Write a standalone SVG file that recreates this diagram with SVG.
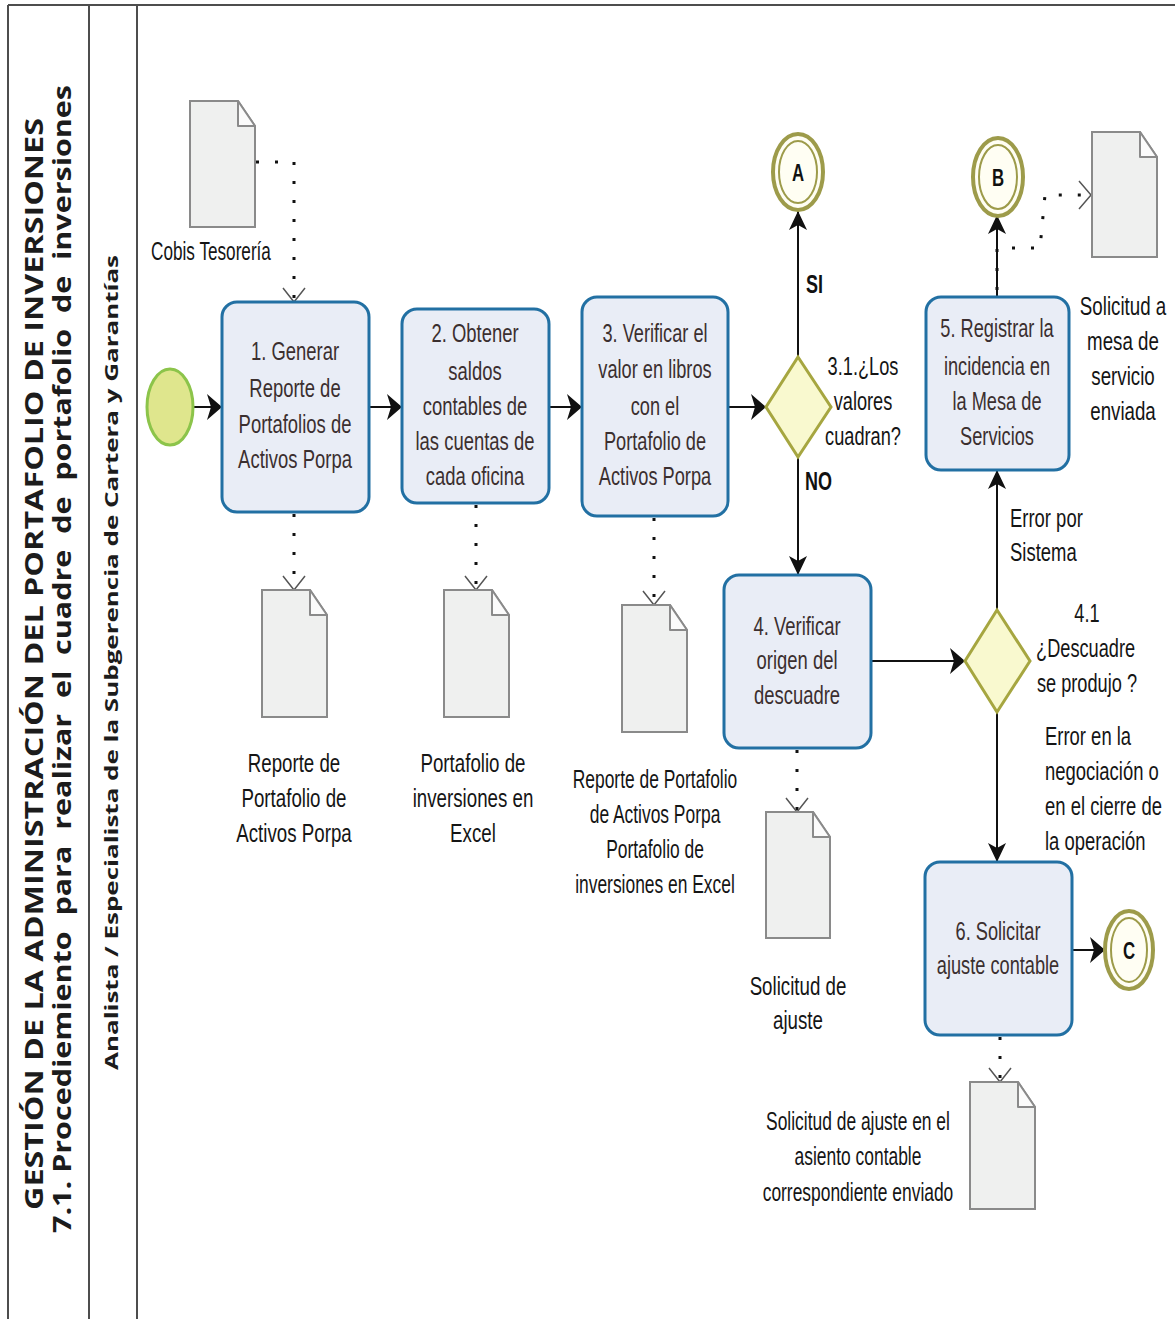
<svg xmlns="http://www.w3.org/2000/svg" width="1175" height="1319" viewBox="0 0 1175 1319">
<style>
.pool{fill:none;stroke:#4d4d4d;stroke-width:2}
.title{font-family:"Open Sans","DejaVu Sans",sans-serif;font-weight:700;font-size:25px;fill:#1c1c1c;white-space:pre}
.lane{font-family:"Open Sans","DejaVu Sans",sans-serif;font-weight:700;font-size:18px;fill:#1c1c1c}
.task rect{fill:#e9edf6;stroke:#2270a3;stroke-width:3}
.tt{font-family:"Liberation Sans",Arial,sans-serif;font-size:26px;fill:#3b2f2f;text-anchor:middle}
.lbl{font-family:"Liberation Sans",Arial,sans-serif;font-size:26px;fill:#151515;text-anchor:middle}
.lbll{font-family:"Liberation Sans",Arial,sans-serif;font-size:26px;fill:#151515;text-anchor:start}
.flag{font-family:"Liberation Sans",Arial,sans-serif;font-size:25px;font-weight:700;fill:#111;text-anchor:start}
.body{fill:#eff0ef;stroke:#8a8a8a;stroke-width:2}
.fold{fill:#fbfbfb;stroke:#8a8a8a;stroke-width:2;stroke-linejoin:round}
.gw{fill:#f9f9cf;stroke:#a6a640;stroke-width:3}
.ev-o{fill:#fffef3;stroke:#9d9b4a;stroke-width:4}
.ev-i{fill:none;stroke:#9d9b4a;stroke-width:2}
.evl{font-family:"Liberation Sans",Arial,sans-serif;font-weight:700;font-size:24px;text-anchor:middle;fill:#111}
.seq{fill:none;stroke:#111;stroke-width:2}
.assoc{fill:none;stroke:#111;stroke-width:3;stroke-dasharray:3 16}
</style>
<defs>
  <marker id="arrH" viewBox="0 0 15 26" refX="15" refY="13" markerWidth="15" markerHeight="26" markerUnits="userSpaceOnUse" orient="auto">
    <path d="M0,0 L15,13 L0,26 L4,13 Z" fill="#111"/>
  </marker>
  <marker id="arrV" viewBox="0 0 19 18" refX="19" refY="9" markerWidth="19" markerHeight="18" markerUnits="userSpaceOnUse" orient="auto">
    <path d="M0,0 L19,9 L0,18 L5,9 Z" fill="#111"/>
  </marker>
  <marker id="openV" viewBox="0 0 16 24" refX="15" refY="12" markerWidth="16" markerHeight="24" markerUnits="userSpaceOnUse" orient="auto">
    <path d="M1,1 L15,12 L1,23" fill="none" stroke="#555" stroke-width="1.5"/>
  </marker>
  <marker id="openH" viewBox="0 0 14 30" refX="13" refY="15" markerWidth="14" markerHeight="30" markerUnits="userSpaceOnUse" orient="auto">
    <path d="M1,1 L13,15 L1,29" fill="none" stroke="#555" stroke-width="1.5"/>
  </marker>
</defs>

<rect width="1175" height="1319" fill="#ffffff"/>

<!-- pool and lane frame -->
<g id="pool">
  <line x1="8" y1="5" x2="1175" y2="5" class="pool" stroke-width="3"/>
  <line x1="8" y1="5" x2="8" y2="1319" class="pool"/>
  <line x1="89" y1="5" x2="89" y2="1319" class="pool"/>
  <line x1="137" y1="5" x2="137" y2="1319" class="pool"/>
  <text class="title" transform="translate(43,1210) rotate(-90)" textLength="1092" lengthAdjust="spacingAndGlyphs">GESTIÓN DE LA ADMINISTRACIÓN DEL PORTAFOLIO DE INVERSIONES</text>
  <text class="title" transform="translate(71,1233) rotate(-90)" textLength="1148" lengthAdjust="spacingAndGlyphs">7.1. Procediemiento  para  realizar  el  cuadre  de  portafolio  de  inversiones</text>
  <text class="lane" transform="translate(118,1070) rotate(-90)" textLength="815" lengthAdjust="spacingAndGlyphs">Analista / Especialista de la Subgerencia de Cartera y Garantías</text>
</g>

<!-- connectors -->
<g id="connectors">
  <path class="seq" d="M193,407 H222" marker-end="url(#arrH)"/>
  <path class="seq" d="M369,407 H402" marker-end="url(#arrH)"/>
  <path class="seq" d="M549,407 H582" marker-end="url(#arrH)"/>
  <path class="seq" d="M728,407 H766" marker-end="url(#arrH)"/>
  <path class="seq" d="M798,357 V211" marker-end="url(#arrV)"/>
  <path class="seq" d="M798,457 V575" marker-end="url(#arrV)"/>
  <path class="seq" d="M871,661 H965" marker-end="url(#arrH)"/>
  <path class="seq" d="M997,610 V470" marker-end="url(#arrV)"/>
  <path class="seq" d="M997,712 V862" marker-end="url(#arrV)"/>
  <path class="seq" d="M997,297 V215" marker-end="url(#arrV)"/>
  <path class="seq" d="M1072,950 H1105" marker-end="url(#arrH)"/>

  <path class="assoc" d="M256,162 H294 V302" marker-end="url(#openV)"/>
  <path class="assoc" d="M294,514 V590" marker-end="url(#openV)"/>
  <path class="assoc" d="M476,505 V590" marker-end="url(#openV)"/>
  <path class="assoc" d="M654,518 V605" marker-end="url(#openV)"/>
  <path class="assoc" d="M797,750 V812" marker-end="url(#openV)"/>
  <path class="assoc" d="M997,290 V248 H1040 L1045,195 H1091" marker-end="url(#openH)"/>
  <path class="assoc" d="M1000,1037 V1082" marker-end="url(#openV)"/>

  <text class="flag" transform="translate(806,293) scale(0.72,1)">SI</text>
  <text class="flag" transform="translate(805,490) scale(0.72,1)">NO</text>
  <g transform="translate(1010,0) scale(0.71,1)">
    <text class="lbll"><tspan x="0" y="527">Error por</tspan><tspan x="0" y="561">Sistema</tspan></text>
  </g>
  <g transform="translate(1045,0) scale(0.71,1)">
    <text class="lbll"><tspan x="0" y="745">Error en la</tspan><tspan x="0" y="780">negociación o</tspan><tspan x="0" y="815">en el cierre de</tspan><tspan x="0" y="850">la operación</tspan></text>
  </g>
</g>

<!-- start event -->
<g id="start">
  <ellipse cx="170" cy="407" rx="23" ry="38" fill="#dfe68d" stroke="#8cc44a" stroke-width="3"/>
</g>

<!-- tasks -->
<g id="task1" class="task">
  <rect x="222" y="302" width="147" height="210" rx="15"/>
  <g transform="translate(295,0) scale(0.71,1)">
    <text class="tt"><tspan x="0" y="360">1. Generar</tspan><tspan x="0" y="397">Reporte de</tspan><tspan x="0" y="433">Portafolios de</tspan><tspan x="0" y="468">Activos Porpa</tspan></text>
  </g>
</g>
<g id="task2" class="task">
  <rect x="402" y="309" width="147" height="194" rx="15"/>
  <g transform="translate(475,0) scale(0.71,1)">
    <text class="tt"><tspan x="0" y="342">2.  Obtener</tspan><tspan x="0" y="380">saldos</tspan><tspan x="0" y="415">contables de</tspan><tspan x="0" y="450">las cuentas de</tspan><tspan x="0" y="485">cada oficina</tspan></text>
  </g>
</g>
<g id="task3" class="task">
  <rect x="582" y="297" width="146" height="219" rx="15"/>
  <g transform="translate(655,0) scale(0.7,1)">
    <text class="tt"><tspan x="0" y="342">3. Verificar el</tspan><tspan x="0" y="378">valor en libros</tspan><tspan x="0" y="415">con el</tspan><tspan x="0" y="450">Portafolio de</tspan><tspan x="0" y="485">Activos Porpa</tspan></text>
  </g>
</g>
<g id="task4" class="task">
  <rect x="724" y="575" width="147" height="173" rx="15"/>
  <g transform="translate(797,0) scale(0.71,1)">
    <text class="tt"><tspan x="0" y="635">4. Verificar</tspan><tspan x="0" y="669">origen del</tspan><tspan x="0" y="704">descuadre</tspan></text>
  </g>
</g>
<g id="task5" class="task">
  <rect x="926" y="297" width="143" height="173" rx="15"/>
  <g transform="translate(997,0) scale(0.7,1)">
    <text class="tt"><tspan x="0" y="337">5. Registrar la</tspan><tspan x="0" y="375">incidencia en</tspan><tspan x="0" y="410">la Mesa de</tspan><tspan x="0" y="445">Servicios</tspan></text>
  </g>
</g>
<g id="task6" class="task">
  <rect x="925" y="862" width="147" height="173" rx="15"/>
  <g transform="translate(998,0) scale(0.7,1)">
    <text class="tt"><tspan x="0" y="940">6. Solicitar</tspan><tspan x="0" y="974">ajuste contable</tspan></text>
  </g>
</g>

<!-- gateways -->
<g id="gateway1">
  <path class="gw" d="M798,357 L831,407 L798,457 L766,407 Z"/>
  <g transform="translate(863,0) scale(0.7,1)">
    <text class="lbl"><tspan x="0" y="375">3.1.¿Los</tspan><tspan x="0" y="410">valores</tspan><tspan x="0" y="445">cuadran?</tspan></text>
  </g>
</g>
<g id="gateway2">
  <path class="gw" d="M997,610 L1030,661 L997,712 L965,661 Z"/>
  <g transform="translate(1087,0) scale(0.7,1)">
    <text class="lbl"><tspan x="0" y="622">4.1</tspan><tspan x="-2" y="657">¿Descuadre</tspan><tspan x="0" y="692">se produjo ?</tspan></text>
  </g>
</g>

<!-- link events -->
<g id="eventA">
  <ellipse class="ev-o" cx="798" cy="172" rx="25" ry="38"/>
  <ellipse class="ev-i" cx="798" cy="172" rx="19" ry="31"/>
  <text class="evl" transform="translate(798,181) scale(0.7,1)">A</text>
</g>
<g id="eventB">
  <ellipse class="ev-o" cx="998" cy="177" rx="25" ry="39"/>
  <ellipse class="ev-i" cx="998" cy="177" rx="19" ry="32"/>
  <text class="evl" transform="translate(998,186) scale(0.7,1)">B</text>
</g>
<g id="eventC">
  <ellipse class="ev-o" cx="1129" cy="950" rx="24" ry="39"/>
  <ellipse class="ev-i" cx="1129" cy="950" rx="18" ry="32"/>
  <text class="evl" transform="translate(1129,959) scale(0.7,1)">C</text>
</g>

<!-- data objects -->
<g id="doc-cobis">
  <path class="body" d="M190,101 H238 L255,126 V227 H190 Z"/>
  <path class="fold" d="M238,101 V126 H255 Z"/>
  <text class="lbl" transform="translate(211,260) scale(0.66,1)">Cobis Tesorería</text>
</g>
<g id="doc-reporte">
  <path class="body" d="M262,590 H310 L327,615 V717 H262 Z"/>
  <path class="fold" d="M310,590 V615 H327 Z"/>
  <g transform="translate(294,0) scale(0.72,1)">
    <text class="lbl"><tspan x="0" y="772">Reporte de</tspan><tspan x="0" y="807">Portafolio de</tspan><tspan x="0" y="842">Activos Porpa</tspan></text>
  </g>
</g>
<g id="doc-excel">
  <path class="body" d="M444,590 H492 L509,615 V717 H444 Z"/>
  <path class="fold" d="M492,590 V615 H509 Z"/>
  <g transform="translate(473,0) scale(0.72,1)">
    <text class="lbl"><tspan x="0" y="772">Portafolio de</tspan><tspan x="0" y="807">inversiones en</tspan><tspan x="0" y="842">Excel</tspan></text>
  </g>
</g>
<g id="doc-verificacion">
  <path class="body" d="M622,605 H670 L687,630 V732 H622 Z"/>
  <path class="fold" d="M670,605 V630 H687 Z"/>
  <g transform="translate(655,0) scale(0.67,1)">
    <text class="lbl"><tspan x="0" y="788">Reporte de Portafolio</tspan><tspan x="0" y="823">de Activos Porpa</tspan><tspan x="0" y="858">Portafolio de</tspan><tspan x="0" y="893">inversiones en Excel</tspan></text>
  </g>
</g>
<g id="doc-ajuste">
  <path class="body" d="M766,812 H813 L830,837 V938 H766 Z"/>
  <path class="fold" d="M813,812 V837 H830 Z"/>
  <g transform="translate(798,0) scale(0.72,1)">
    <text class="lbl"><tspan x="0" y="995">Solicitud de</tspan><tspan x="0" y="1029">ajuste</tspan></text>
  </g>
</g>
<g id="doc-mesa">
  <path class="body" d="M1092,132 H1140 L1157,157 V257 H1092 Z"/>
  <path class="fold" d="M1140,132 V157 H1157 Z"/>
  <g transform="translate(1123,0) scale(0.72,1)">
    <text class="lbl"><tspan x="0" y="315">Solicitud a</tspan><tspan x="0" y="350">mesa de</tspan><tspan x="0" y="385">servicio</tspan><tspan x="0" y="420">enviada</tspan></text>
  </g>
</g>
<g id="doc-asiento">
  <path class="body" d="M970,1082 H1018 L1035,1107 V1209 H970 Z"/>
  <path class="fold" d="M1018,1082 V1107 H1035 Z"/>
  <g transform="translate(858,0) scale(0.67,1)">
    <text class="lbl"><tspan x="0" y="1130">Solicitud de ajuste en el</tspan><tspan x="0" y="1165">asiento contable</tspan><tspan x="0" y="1201">correspondiente enviado</tspan></text>
  </g>
</g>
</svg>
